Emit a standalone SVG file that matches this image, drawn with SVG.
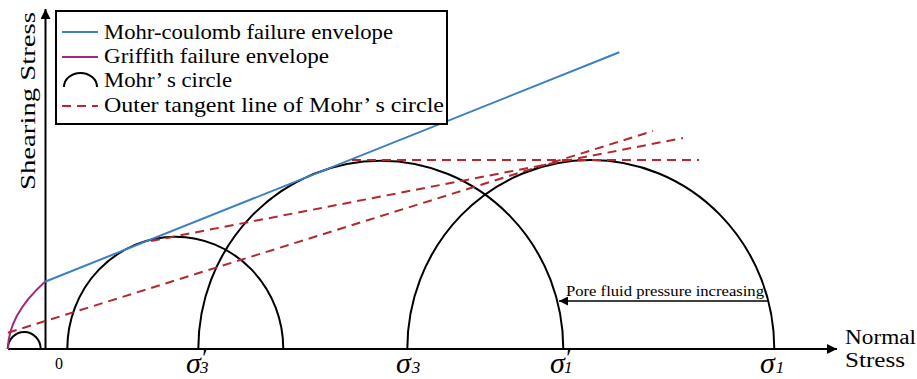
<svg xmlns="http://www.w3.org/2000/svg" width="917" height="379" viewBox="0 0 917 379">
<defs>
<marker id="ah" viewBox="0 0 10 10" refX="10" refY="5" markerWidth="5" markerHeight="5" orient="auto" markerUnits="strokeWidth">
<path d="M0,0 L10,5 L0,10 Z" fill="#000"/>
</marker>
<marker id="ahs" viewBox="0 0 10 10" refX="10" refY="5" markerWidth="7" markerHeight="6" orient="auto" markerUnits="strokeWidth">
<path d="M0,0 L10,5 L0,10 Z" fill="#000"/>
</marker>
</defs>
<style>
.ax{stroke:#000;stroke-width:2;fill:none}
.circ{stroke:#000;stroke-width:2;fill:none}
.mc{stroke:#3b7fc6;stroke-width:2;fill:none}
.gr{stroke:#a3267d;stroke-width:2;fill:none}
.tg{stroke:#b3282e;stroke-width:2;fill:none;stroke-dasharray:9,6}
.t{font-family:"Liberation Serif","Times New Roman",serif;fill:#000}
.sg{font-family:"Liberation Serif","Times New Roman",serif;font-style:italic;fill:#000}
</style>
<rect width="917" height="379" fill="#fff"/>
<g id="axes">
<line class="ax" x1="8" y1="349" x2="837" y2="349" marker-end="url(#ah)"/>
<line class="ax" x1="45.5" y1="349" x2="45.5" y2="9" marker-end="url(#ah)"/>
<text class="t" x="55" y="369" font-size="16">0</text>
<text class="t" x="845" y="344" font-size="20" textLength="71" lengthAdjust="spacingAndGlyphs">Normal</text>
<text class="t" x="845" y="367" font-size="20" textLength="60" lengthAdjust="spacingAndGlyphs">Stress</text>
<text class="t" transform="translate(35,190) rotate(-90)" font-size="21" textLength="178" lengthAdjust="spacingAndGlyphs">Shearing Stress</text>
</g>
<g id="circles">
<path id="circle0" class="circ" d="M7.7,349 A16.5,17 0 0 1 40.7,349"/>
<path id="circle1" class="circ" d="M67.3,349 A108,112.3 0 0 1 283.3,349"/>
<path id="circle2" class="circ" d="M198.3,349 A182.5,188.3 0 0 1 563.3,349"/>
<path id="circle3" class="circ" d="M407.3,349 A183.5,189 0 0 1 774.3,349"/>
</g>
<g id="connectors">
<path id="griffith" class="gr" d="M8,349 Q8,315 45,281.7"/>
<line id="mohr-coulomb" class="mc" x1="45" y1="281.7" x2="619.3" y2="52.3"/>
<line id="tangentA" class="tg" x1="8" y1="332.7" x2="653" y2="131"/>
<line id="tangentB" class="tg" x1="151" y1="241" x2="683" y2="138"/>
<line id="tangentC" class="tg" x1="352" y1="160" x2="699" y2="160"/>
<line id="pore-arrow" stroke="#000" stroke-width="1.5" x1="769" y1="301" x2="559" y2="301" marker-end="url(#ahs)"/>
</g>
<g id="pore-label">
<text class="t" x="566" y="296" font-size="15" textLength="198" lengthAdjust="spacingAndGlyphs">Pore fluid pressure increasing</text>
</g>
<g id="sigma-labels">
<text class="sg" x="186" y="373" font-size="30">σ<tspan font-size="24" dx="0" dy="-8">′</tspan><tspan font-size="17" dx="-6" dy="8">3</tspan></text>
<text class="sg" x="396" y="373" font-size="30">σ<tspan font-size="17" dx="1">3</tspan></text>
<text class="sg" x="550" y="373" font-size="30">σ<tspan font-size="24" dx="0" dy="-8">′</tspan><tspan font-size="17" dx="-6" dy="8">1</tspan></text>
<text class="sg" x="760" y="373" font-size="30">σ<tspan font-size="17" dx="1">1</tspan></text>
</g>
<g id="legend">
<rect x="56" y="11" width="391" height="113" fill="#fff" stroke="#000" stroke-width="2"/>
<line class="mc" x1="62" y1="32" x2="98" y2="32"/>
<text class="t" x="104" y="39" font-size="21" textLength="289" lengthAdjust="spacingAndGlyphs">Mohr-coulomb failure envelope</text>
<line class="gr" x1="62" y1="57" x2="98" y2="57"/>
<text class="t" x="104" y="63" font-size="21" textLength="225" lengthAdjust="spacingAndGlyphs">Griffith failure envelope</text>
<path class="circ" d="M64,87 A16.5,14 0 0 1 97,87"/>
<text class="t" x="104" y="87" font-size="21" textLength="128" lengthAdjust="spacingAndGlyphs">Mohr’ s circle</text>
<line class="tg" x1="62" y1="106" x2="98" y2="106" stroke-dasharray="7,5"/>
<text class="t" x="104" y="112" font-size="21" textLength="340" lengthAdjust="spacingAndGlyphs">Outer tangent line of Mohr’ s circle</text>
</g>
</svg>
